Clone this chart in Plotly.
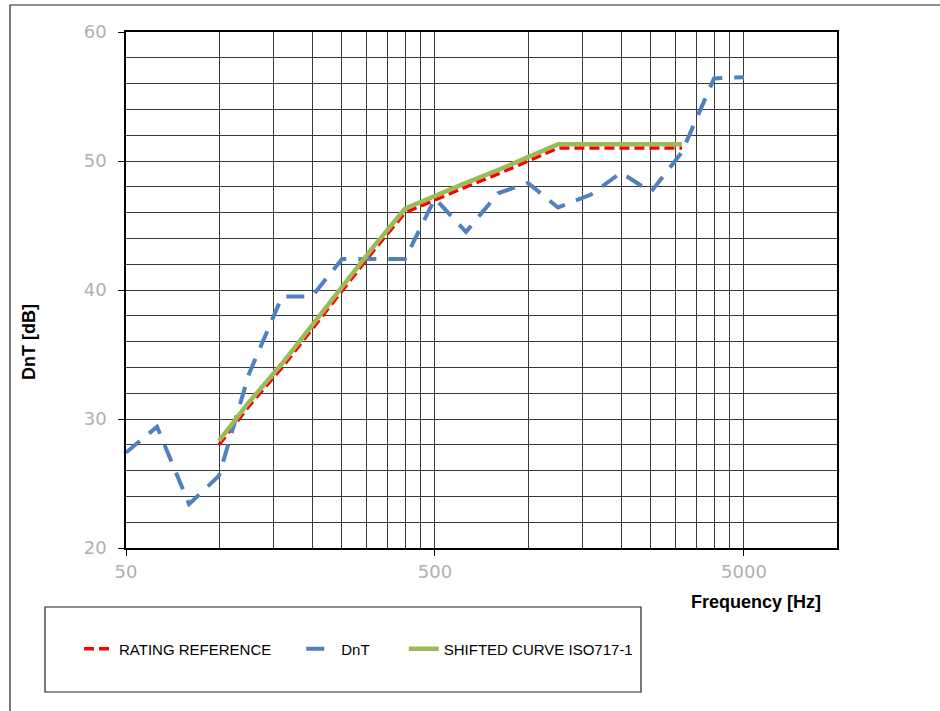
import plotly.graph_objects as go
import math

freqs = [50, 63, 80, 100, 125, 160, 200, 250, 315, 400, 500, 630, 800, 1000,
         1250, 1600, 2000, 2500, 3150, 4000, 5000]
dnt = [27.4, 29.4, 23.4, 25.6, 33.5, 39.5, 39.5, 42.4, 42.4, 42.4, 47.1, 44.5,
       47.5, 48.3, 46.4, 47.4, 49.1, 47.6, 50.7, 56.4, 56.5]

ref_freqs = [100, 125, 160, 200, 250, 315, 400, 500, 630, 800, 1000, 1250,
             1600, 2000, 2500, 3150]
rating_ref = [28, 31, 34, 37, 40, 43, 46, 47, 48, 49, 50, 51, 51, 51, 51, 51]
shifted = [28.3, 31.3, 34.3, 37.3, 40.3, 43.3, 46.3, 47.3, 48.3, 49.3, 50.3,
           51.3, 51.3, 51.3, 51.3, 51.3]

x_ticks = [50, 500, 5000]
x_minor = [100, 150, 200, 250, 300, 350, 400, 450,
           1000, 1500, 2000, 2500, 3000, 3500, 4000, 4500]

PL, PR, PT, PB = 126, 837, 32, 548  # plot area in screen pixels
W, H = 940, 711
L, T = PL, PT
R = W - PR
B = H - PB
pw, ph = PR - PL, PB - PT

def px(x):
    return (x - PL) / pw

def py(y):
    return (PB - y) / ph

NB = "\u00a0"

fig = go.Figure()
fig.add_trace(go.Scatter(x=ref_freqs, y=rating_ref,
                         name="RATING REFERENCE" + NB * 6,
                         mode="lines",
                         line=dict(color="#ff0000", width=3.5, dash="10px,5px")))
fig.add_trace(go.Scatter(x=freqs, y=dnt, name="DnT" + NB * 7, mode="lines",
                         line=dict(color="#4f81bd", width=4, dash="18px,12px")))
fig.add_trace(go.Scatter(x=ref_freqs, y=shifted, name="SHIFTED CURVE ISO717-1",
                         mode="lines",
                         line=dict(color="#9bbb59", width=4.5)))

grid_col = "#3a3a3a"
tick_font = dict(family="DejaVu Sans", size=18, color="#b0b0b0")

fig.update_xaxes(type="log", range=[math.log10(50), math.log10(10000)],
                 tickvals=x_ticks, ticktext=[str(v) for v in x_ticks],
                 showgrid=True, gridcolor=grid_col, gridwidth=1,
                 minor=dict(tickvals=x_minor, showgrid=True, gridcolor=grid_col,
                            gridwidth=1, ticklen=0),
                 showline=True, linecolor="black", linewidth=1.5, mirror=True,
                 ticks="outside", ticklen=6, tickcolor="black",
                 tickfont=tick_font, ticklabelstandoff=1, zeroline=False)
fig.update_yaxes(range=[20, 60], dtick=10, tick0=0,
                 showgrid=True, gridcolor=grid_col, gridwidth=1,
                 minor=dict(dtick=2, showgrid=True, gridcolor=grid_col,
                            gridwidth=1, ticklen=0),
                 showline=True, linecolor="black", linewidth=1.5, mirror=True,
                 ticks="outside", ticklen=6, tickcolor="black",
                 tickfont=tick_font, ticklabelstandoff=8, zeroline=False)

shapes = [
    dict(type="rect", xref="paper", yref="paper",
         x0=px(10), x1=px(960), y0=py(730), y1=py(5),
         line=dict(color="#222222", width=1.2), layer="below"),
    dict(type="rect", xref="paper", yref="paper",
         x0=px(45), x1=px(641), y0=py(692), y1=py(607),
         line=dict(color="#222222", width=1.2)),
]

annotations = [
    dict(text="<b>DnT [dB]</b>", xref="paper", yref="paper",
         x=px(29), y=py(342), showarrow=False, textangle=-90,
         font=dict(family="Liberation Sans", size=18, color="black"),
         xanchor="center", yanchor="middle"),
    dict(text="<b>Frequency [Hz]</b>", xref="paper", yref="paper",
         x=px(756), y=py(602), showarrow=False,
         font=dict(family="Liberation Sans", size=18, color="black"),
         xanchor="center", yanchor="middle"),
]

fig.update_layout(
    width=W, height=H,
    margin=dict(l=L, r=R, t=T, b=B),
    paper_bgcolor="white", plot_bgcolor="white",
    shapes=shapes, annotations=annotations,
    showlegend=True,
    legend=dict(orientation="h", x=px(79), y=py(649), xanchor="left",
                yanchor="middle", bgcolor="rgba(0,0,0,0)",
                font=dict(family="Liberation Sans", size=15, color="black"),
                itemwidth=30),
)

fig.write_html("out.html",
               config={"displayModeBar": False},
               post_script="document.body.style.margin='0';"
                           "document.body.style.overflow='hidden';")
